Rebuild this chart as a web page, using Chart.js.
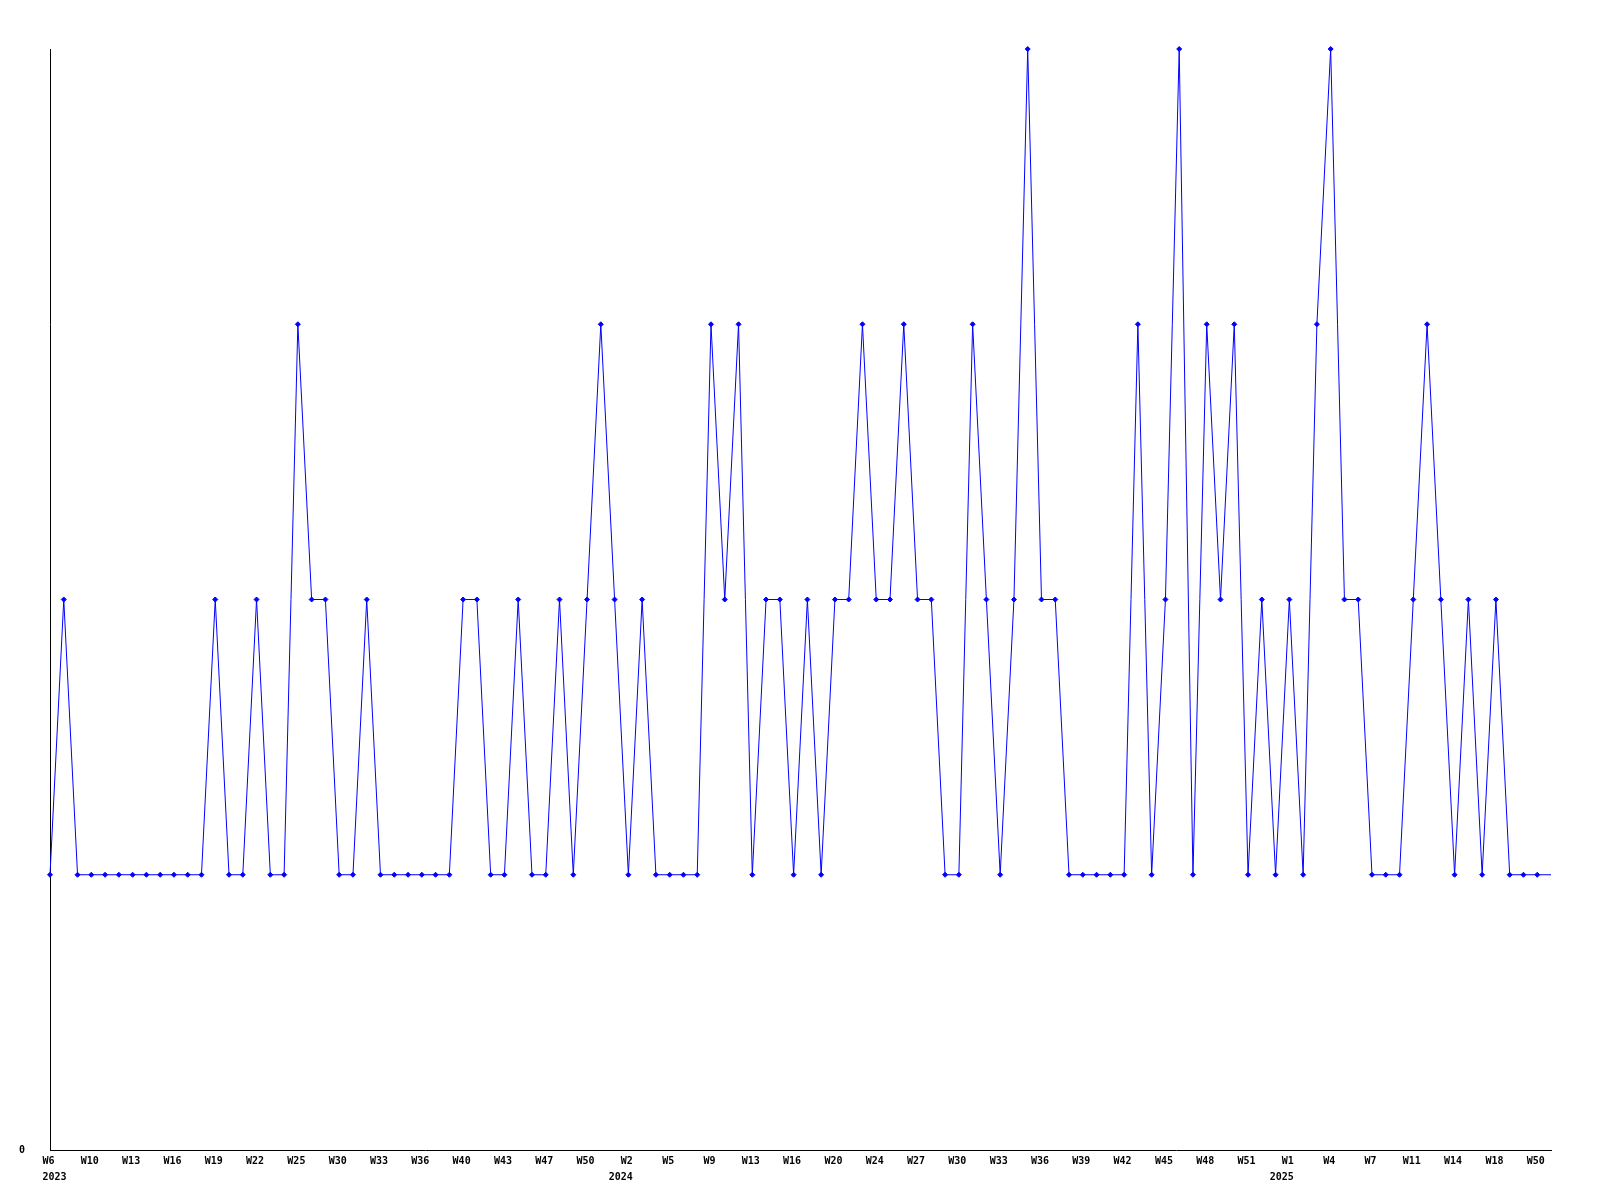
<!DOCTYPE html>
<html>
<head>
<meta charset="utf-8">
<script src="https://cdn.jsdelivr.net/npm/chart.js@4/dist/chart.umd.min.js"></script>
<style>
  html, body { margin: 0; padding: 0; background: #fff; }
  #wrap { width: 1600px; height: 1200px; }
</style>
</head>
<body>
<div id="wrap"><canvas id="weekChart" width="1600" height="1200"></canvas></div>
<script>
// week labels, one per point
const weeks = [
  'W6', 'W7', 'W8', 'W10', 'W11', 'W12', 'W13', 'W14', 'W15', 'W16',
  'W17', 'W18', 'W19', 'W20', 'W21', 'W22', 'W23', 'W24', 'W25', 'W26',
  'W28', 'W30', 'W31', 'W32', 'W33', 'W34', 'W35', 'W36', 'W37', 'W38',
  'W40', 'W41', 'W42', 'W43', 'W44', 'W46', 'W47', 'W48', 'W49', 'W50',
  'W51', 'W52', 'W2', 'W3', 'W4', 'W5', 'W6', 'W8', 'W9', 'W10',
  'W12', 'W13', 'W14', 'W15', 'W16', 'W17', 'W19', 'W20', 'W21', 'W23',
  'W24', 'W25', 'W26', 'W27', 'W28', 'W29', 'W30', 'W31', 'W32', 'W33',
  'W34', 'W35', 'W36', 'W37', 'W38', 'W39', 'W40', 'W41', 'W42', 'W43',
  'W44', 'W45', 'W46', 'W47', 'W48', 'W49', 'W50', 'W51', 'W52', 'W53',
  'W1', 'W2', 'W3', 'W4', 'W5', 'W6', 'W7', 'W8', 'W10', 'W11',
  'W12', 'W13', 'W14', 'W15', 'W17', 'W18', 'W19', 'W49', 'W50', 'W51'
];

// first index of each year
const yearStarts = [0, 42, 90];
const yearNames = ['2023', '2024', '2025'];

const counts = [
  1, 2, 1, 1, 1, 1, 1, 1, 1, 1,
  1, 1, 2, 1, 1, 2, 1, 1, 3, 2,
  2, 1, 1, 2, 1, 1, 1, 1, 1, 1,
  2, 2, 1, 1, 2, 1, 1, 2, 1, 2,
  3, 2, 1, 2, 1, 1, 1, 1, 3, 2,
  3, 1, 2, 2, 1, 2, 1, 2, 2, 3,
  2, 2, 3, 2, 2, 1, 1, 3, 2, 1,
  2, 4, 2, 2, 1, 1, 1, 1, 1, 3,
  1, 2, 4, 1, 3, 2, 3, 1, 2, 1,
  2, 1, 3, 4, 2, 2, 1, 1, 1, 2,
  3, 2, 1, 2, 1, 2, 1, 1, 1, 1
];

const yTicks = [0];

Chart.defaults.font.family = '"DejaVu Sans Mono", "Liberation Mono", monospace';
Chart.defaults.font.size = 10;
Chart.defaults.font.weight = 'bold';
Chart.defaults.color = '#000';

function tickLabel(index) {
  if (index % 3 !== 0) return '';
  const y = yearStarts.indexOf(index);
  if (y < 0) return weeks[index];
  const week = weeks[index];
  const year = yearNames[y];
  const pad = ' '.repeat(Math.max(0, year.length - week.length));
  // monospace padding: first year sits left-aligned, the others right-aligned under the week
  return index === 0 ? [week, pad + year] : [week, year + pad];
}

const ctx = document.getElementById('weekChart').getContext('2d');

new Chart(ctx, {
  type: 'line',
  data: {
    labels: weeks,
    datasets: [{
      data: counts,
      borderColor: '#0000ff',
      backgroundColor: '#0000ff',
      borderWidth: 1,
      tension: 0,
      fill: false,
      pointStyle: 'rectRot',
      pointRadius: counts.map((_, i) => (i === counts.length - 1 ? 0 : 2.5)),
      pointBorderWidth: 1,
      clip: false
    }]
  },
  options: {
    responsive: false,
    animation: false,
    events: [],
    layout: {
      padding: { left: 0, top: 49, right: 49, bottom: 0 }
    },
    plugins: {
      legend: { display: false },
      tooltip: { enabled: false }
    },
    scales: {
      x: {
        offset: false,
        grid: { display: false, drawTicks: false },
        border: { display: true, color: '#000', width: 1 },
        ticks: {
          autoSkip: false,
          maxRotation: 0,
          minRotation: 0,
          padding: 3,
          labelOffset: -1.5,
          font: { lineHeight: '16px' },
          callback: (value, index) => tickLabel(index)
        },
        afterFit: axis => { axis.height = 50; }
      },
      y: {
        min: 0,
        max: 4,
        grid: { display: false, drawTicks: false },
        border: { display: true, color: '#000', width: 1 },
        ticks: {
          stepSize: 1,
          padding: 25,
          callback: value => (yTicks.includes(value) ? String(value) : '')
        },
        afterFit: axis => { axis.width = 50; }
      }
    }
  }
});
</script>
</body>
</html>
